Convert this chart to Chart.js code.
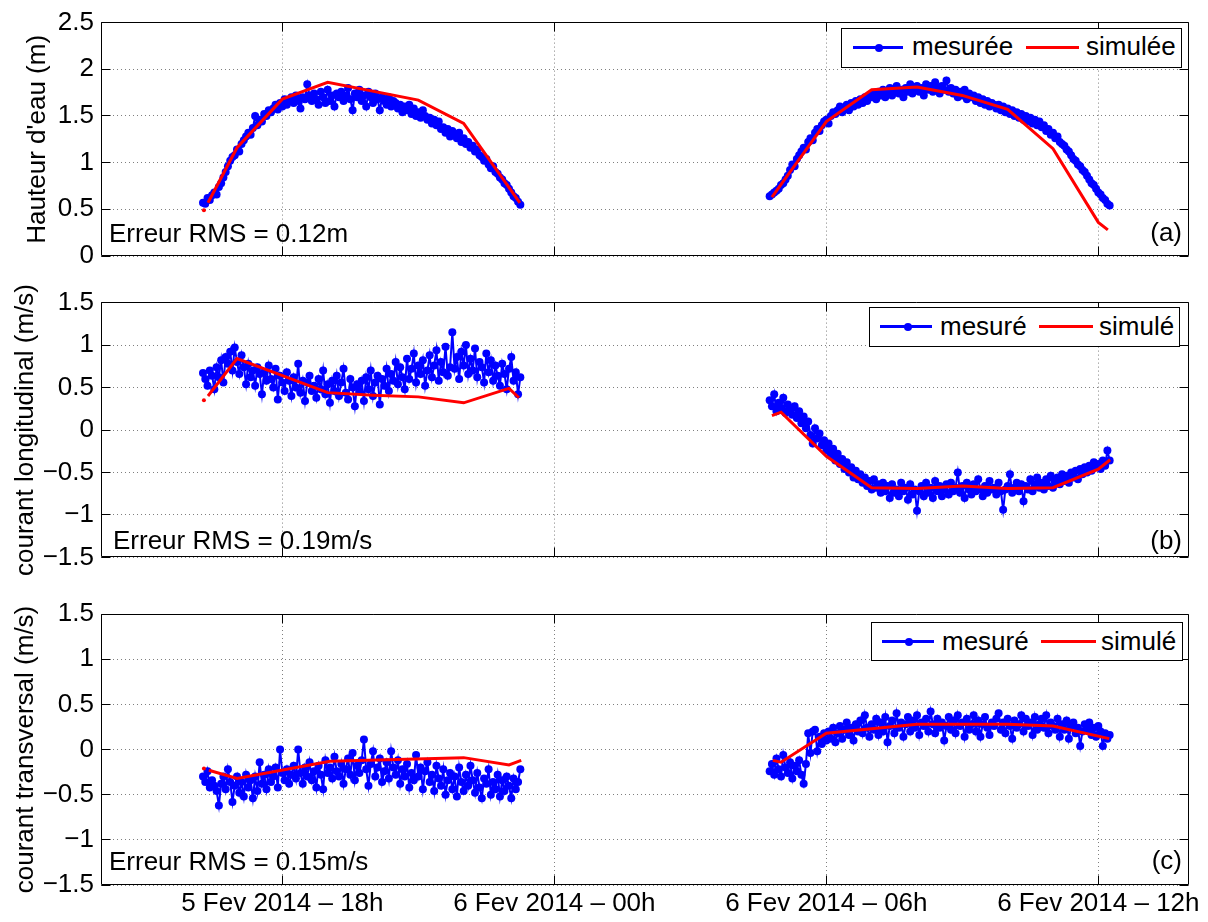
<!DOCTYPE html>
<html>
<head>
<meta charset="utf-8">
<script src="https://cdn.jsdelivr.net/npm/chart.js@4/dist/chart.umd.min.js"></script>
<style>
body { margin:0; background:#fff; width:1208px; height:922px; position:relative; overflow:hidden;
       font-family:"Liberation Sans", Arial, Helvetica, sans-serif; }
.panel { position:absolute; left:0; }
.txt { position:absolute; font-size:26px; line-height:26px; white-space:nowrap; color:#000; }
.box { position:absolute; border:1px solid #000; background:#fff; box-sizing:border-box; }
.ln { position:absolute; height:3px; }
.dot { position:absolute; width:8px; height:8px; border-radius:50%; background:#00f; }
</style>
</head>
<body>
<canvas id="chartA" class="panel" width="1208" height="280" style="top:0"></canvas>
<canvas id="chartB" class="panel" width="1208" height="300" style="top:280px"></canvas>
<canvas id="chartC" class="panel" width="1208" height="332" style="top:590px"></canvas>

<!-- legends -->
<div class="box" style="left:841px;top:28px;width:341px;height:40px"></div>
<div class="ln" style="left:853px;top:46px;width:50px;background:#00f"></div>
<div class="dot" style="left:875px;top:43.5px"></div>
<div class="txt" style="left:912px;top:33px">mesurée</div>
<div class="ln" style="left:1026px;top:46px;width:53px;background:#f00"></div>
<div class="txt" style="left:1086px;top:33px">simulée</div>

<div class="box" style="left:869px;top:307px;width:311px;height:40px"></div>
<div class="ln" style="left:880px;top:325px;width:52px;background:#00f"></div>
<div class="dot" style="left:903.5px;top:322.5px"></div>
<div class="txt" style="left:940px;top:313px">mesuré</div>
<div class="ln" style="left:1039px;top:325px;width:54px;background:#f00"></div>
<div class="txt" style="left:1099px;top:313px">simulé</div>

<div class="box" style="left:871px;top:622px;width:312px;height:39px"></div>
<div class="ln" style="left:882px;top:640px;width:52px;background:#00f"></div>
<div class="dot" style="left:905px;top:637.5px"></div>
<div class="txt" style="left:942px;top:628px">mesuré</div>
<div class="ln" style="left:1041px;top:640px;width:55px;background:#f00"></div>
<div class="txt" style="left:1101px;top:628px">simulé</div>

<!-- annotations -->
<div class="txt" style="left:109px;top:220px">Erreur RMS = 0.12m</div>
<div class="txt" style="right:26px;top:219px">(a)</div>
<div class="txt" style="left:113px;top:527px">Erreur RMS = 0.19m/s</div>
<div class="txt" style="right:26px;top:527px">(b)</div>
<div class="txt" style="left:109px;top:848px">Erreur RMS = 0.15m/s</div>
<div class="txt" style="right:26px;top:847px">(c)</div>

<script>
// x axis: hours counted from 5 Feb 2014 00h
const xMin = 14, xMax = 38;
const xTickHours = [18, 24, 30, 36];
const xTickLabels = ['5 Fev 2014 – 18h', '6 Fev 2014 – 00h', '6 Fev 2014 – 06h', '6 Fev 2014 – 12h'];

const yTicksA = [0, 0.5, 1, 1.5, 2, 2.5];
const yLabelsA = ['0', '0.5', '1', '1.5', '2', '2.5'];
const yTicksBC = [-1.5, -1, -0.5, 0, 0.5, 1, 1.5];
const yLabelsBC = ['\u22121.5', '\u22121', '\u22120.5', '0', '0.5', '1', '1.5'];

// measurements: one sample every 3 minutes
const sampleStep = 0.05;
const seg1Start = 16.25;
const seg2Start = 28.75;

// (a) water height
const hauteurMes1 = [0.57,0.56,0.62,0.60,0.65,0.68,0.66,0.74,0.78,0.84,
  0.90,0.96,1.02,1.06,1.08,1.14,1.12,1.20,1.24,1.28,
  1.32,1.30,1.37,1.50,1.40,1.46,1.44,1.52,1.50,1.56,
  1.54,1.58,1.62,1.57,1.64,1.60,1.68,1.62,1.66,1.70,
  1.64,1.72,1.66,1.58,1.70,1.68,1.84,1.72,1.66,1.74,
  1.68,1.62,1.76,1.70,1.64,1.78,1.66,1.72,1.60,1.74,
  1.70,1.76,1.66,1.72,1.80,1.68,1.56,1.74,1.70,1.78,
  1.66,1.72,1.60,1.76,1.70,1.64,1.74,1.68,1.56,1.70,
  1.66,1.62,1.70,1.60,1.66,1.64,1.58,1.62,1.54,1.60,
  1.56,1.62,1.52,1.58,1.50,1.54,1.48,1.56,1.50,1.46,
  1.48,1.42,1.46,1.40,1.44,1.36,1.38,1.32,1.36,1.28,
  1.34,1.30,1.26,1.32,1.22,1.26,1.20,1.22,1.16,1.18,
  1.12,1.14,1.08,1.06,1.02,1.04,0.98,0.94,0.96,0.90,
  0.88,0.84,0.82,0.78,0.76,0.72,0.68,0.64,0.62,0.58,
  0.55];
const hauteurMes2 = [0.64,0.66,0.68,0.70,0.72,0.76,0.78,0.82,0.86,0.92,
  0.98,0.96,1.04,1.08,1.12,1.16,1.14,1.22,1.26,1.24,
  1.32,1.36,1.34,1.40,1.44,1.46,1.42,1.50,1.54,1.52,
  1.56,1.60,1.54,1.58,1.62,1.56,1.64,1.60,1.66,1.62,
  1.68,1.64,1.70,1.66,1.72,1.70,1.74,1.68,1.76,1.72,
  1.78,1.70,1.74,1.80,1.72,1.76,1.82,1.74,1.78,1.70,
  1.80,1.76,1.84,1.74,1.78,1.82,1.76,1.80,1.72,1.84,
  1.78,1.82,1.76,1.86,1.80,1.74,1.82,1.78,1.88,1.76,
  1.80,1.74,1.78,1.70,1.76,1.72,1.78,1.68,1.74,1.70,
  1.72,1.66,1.70,1.64,1.68,1.62,1.66,1.60,1.64,1.62,
  1.58,1.62,1.56,1.60,1.54,1.58,1.52,1.56,1.50,1.54,
  1.48,1.52,1.46,1.50,1.44,1.48,1.42,1.46,1.40,1.44,
  1.38,1.40,1.34,1.36,1.30,1.32,1.26,1.28,1.22,1.20,
  1.18,1.14,1.12,1.08,1.04,1.02,0.98,0.96,0.92,0.90,
  0.86,0.82,0.78,0.76,0.72,0.68,0.66,0.62,0.60,0.56,
  0.54];
const hauteurSimT1 = [16.27, 16.36, 17, 18, 19, 21, 22, 23.24];
const hauteurSim1 = [0.49, 0.57, 1.16, 1.68, 1.86, 1.67, 1.42, 0.57];
const hauteurSimT2 = [28.8, 30, 31, 32, 33, 34, 35, 36, 36.21];
const hauteurSim2 = [0.63, 1.44, 1.78, 1.81, 1.72, 1.57, 1.15, 0.36, 0.28];

// (b) longshore current
const longMes1 = [0.67,0.60,0.52,0.70,0.64,0.48,0.74,0.62,0.82,0.56,
  0.86,0.78,0.92,0.70,0.97,0.80,0.66,0.88,0.74,0.54,
  0.78,0.62,0.70,0.52,0.74,0.66,0.42,0.68,0.58,0.76,
  0.60,0.50,0.72,0.36,0.64,0.56,0.46,0.68,0.58,0.40,
  0.62,0.50,0.78,0.44,0.58,0.34,0.56,0.64,0.46,0.52,
  0.38,0.60,0.48,0.70,0.42,0.54,0.32,0.58,0.46,0.64,
  0.40,0.56,0.72,0.44,0.36,0.60,0.50,0.28,0.54,0.46,
  0.58,0.34,0.62,0.48,0.70,0.40,0.56,0.64,0.30,0.60,
  0.52,0.72,0.46,0.66,0.58,0.80,0.54,0.74,0.62,0.48,
  0.84,0.60,0.72,0.90,0.56,0.76,0.66,0.82,0.52,0.70,
  0.88,0.62,0.76,0.94,0.58,0.80,0.68,0.98,0.64,0.74,
  1.15,0.72,0.86,0.60,0.92,0.76,1.00,0.66,0.84,0.70,
  0.96,0.62,0.80,0.74,0.56,0.90,0.68,0.82,0.58,0.76,
  0.64,0.52,0.78,0.66,0.48,0.72,0.86,0.58,0.68,0.42,
  0.62];
const longMes2 = [0.35,0.28,0.42,0.22,0.32,0.26,0.38,0.20,0.30,0.24,
  0.18,0.28,0.14,0.22,0.08,0.16,0.02,0.10,-0.06,-0.16,
  0.02,-0.10,-0.04,-0.18,-0.12,-0.24,-0.16,-0.30,-0.22,-0.36,
  -0.28,-0.40,-0.34,-0.46,-0.38,-0.50,-0.44,-0.56,-0.48,-0.58,
  -0.52,-0.62,-0.56,-0.66,-0.60,-0.70,-0.58,-0.68,-0.64,-0.74,
  -0.62,-0.72,-0.66,-0.80,-0.64,-0.74,-0.70,-0.78,-0.62,-0.72,
  -0.68,-0.82,-0.64,-0.76,-0.70,-0.95,-0.72,-0.66,-0.78,-0.62,
  -0.74,-0.68,-0.80,-0.60,-0.72,-0.66,-0.78,-0.70,-0.64,-0.76,
  -0.62,-0.72,-0.68,-0.50,-0.74,-0.66,-0.80,-0.62,-0.70,-0.76,
  -0.64,-0.72,-0.58,-0.70,-0.78,-0.66,-0.74,-0.60,-0.70,-0.68,
  -0.76,-0.62,-0.72,-0.94,-0.70,-0.66,-0.52,-0.74,-0.68,-0.62,
  -0.72,-0.64,-0.84,-0.66,-0.70,-0.58,-0.72,-0.64,-0.56,-0.68,
  -0.62,-0.70,-0.58,-0.66,-0.54,-0.68,-0.60,-0.56,-0.64,-0.52,
  -0.60,-0.54,-0.62,-0.50,-0.56,-0.48,-0.58,-0.46,-0.52,-0.44,
  -0.50,-0.42,-0.48,-0.38,-0.44,-0.40,-0.46,-0.36,-0.42,-0.24,
  -0.36];
const longSimT1 = [16.27, 16.36, 17, 19, 20, 21, 22, 23, 23.22];
const longSim1 = [0.35, 0.40, 0.84, 0.44, 0.41, 0.39, 0.32, 0.49, 0.38];
const longSimT2 = [28.8, 29, 30, 31, 32, 33, 34, 35, 36, 36.26];
const longSim2 = [0.17, 0.21, -0.31, -0.68, -0.69, -0.66, -0.69, -0.68, -0.46, -0.35];

// (c) cross-shore current
const transMes1 = [-0.30,-0.36,-0.24,-0.42,-0.34,-0.40,-0.46,-0.62,-0.38,-0.30,
  -0.44,-0.22,-0.36,-0.58,-0.40,-0.30,-0.48,-0.36,-0.52,-0.28,
  -0.42,-0.34,-0.54,-0.30,-0.46,-0.14,-0.38,-0.28,-0.44,-0.22,
  -0.36,-0.30,-0.20,-0.42,0.00,-0.26,-0.34,-0.22,-0.38,-0.28,
  -0.18,-0.32,0.00,-0.26,-0.38,-0.20,-0.30,-0.14,-0.34,-0.24,
  -0.42,-0.18,-0.28,-0.44,-0.12,-0.26,-0.20,-0.32,-0.08,-0.24,
  -0.30,-0.16,-0.38,-0.22,-0.10,-0.28,-0.04,-0.34,-0.18,-0.26,
  -0.12,0.11,-0.22,-0.40,-0.16,-0.02,-0.30,-0.20,-0.10,-0.36,
  -0.24,-0.14,-0.32,-0.02,-0.20,-0.28,-0.12,-0.38,-0.22,-0.30,
  -0.16,-0.42,-0.26,-0.34,-0.06,-0.30,-0.20,-0.44,-0.24,-0.14,
  -0.36,-0.28,-0.46,-0.18,-0.32,-0.40,-0.22,-0.50,-0.34,-0.26,
  -0.44,-0.30,-0.52,-0.20,-0.36,-0.46,-0.28,-0.40,-0.18,-0.34,
  -0.48,-0.26,-0.42,-0.54,-0.32,-0.38,-0.22,-0.50,-0.36,-0.44,
  -0.28,-0.52,-0.34,-0.46,-0.30,-0.40,-0.54,-0.32,-0.44,-0.36,
  -0.22];
const transMes2 = [-0.24,-0.16,-0.28,-0.10,-0.22,-0.30,-0.06,-0.20,-0.26,-0.14,
  -0.32,-0.18,-0.24,-0.12,-0.28,-0.38,-0.16,0.18,-0.04,0.20,
  0.22,-0.02,0.14,0.06,0.18,0.10,0.20,0.12,0.24,0.08,
  0.18,0.26,0.12,0.22,0.30,0.16,0.24,0.10,0.28,0.20,
  0.32,0.18,0.38,0.24,0.14,0.28,0.22,0.34,0.16,0.30,
  0.20,0.36,0.08,0.26,0.32,0.18,0.40,0.24,0.30,0.14,
  0.28,0.36,0.20,0.32,0.24,0.38,0.16,0.30,0.26,0.34,
  0.20,0.42,0.28,0.18,0.34,0.24,0.30,0.10,0.26,0.36,
  0.22,0.32,0.18,0.38,0.26,0.30,0.14,0.34,0.22,0.28,
  0.38,0.20,0.32,0.14,0.28,0.36,0.24,0.16,0.30,0.26,
  0.34,0.40,0.22,0.30,0.18,0.34,0.26,0.12,0.32,0.24,
  0.28,0.38,0.20,0.34,0.26,0.30,0.16,0.36,0.22,0.28,
  0.34,0.24,0.38,0.18,0.30,0.26,0.22,0.34,0.14,0.28,
  0.22,0.32,0.12,0.26,0.30,0.18,0.24,0.04,0.20,0.28,
  0.22,0.30,0.16,0.24,0.14,0.26,0.20,0.04,0.18,0.12,
  0.16];
const transSimT1 = [16.27, 16.38, 17, 19.05, 22, 23, 23.27];
const transSim1 = [-0.21, -0.23, -0.32, -0.13, -0.09, -0.17, -0.12];
const transSimT2 = [28.82, 29, 30, 32, 34, 35, 36.24];
const transSim2 = [-0.12, -0.14, 0.18, 0.28, 0.28, 0.26, 0.12];

Chart.defaults.font.family = '"Liberation Sans", Arial, Helvetica, sans-serif';
Chart.defaults.font.size = 26;
Chart.defaults.color = '#000';

function mesPoints(start, vals) {
  return vals.map((v, i) => ({x: start + i * sampleStep, y: v}));
}
function simPoints(times, vals) {
  return times.map((t, i) => ({x: t, y: vals[i]}));
}

function simDataset(points, loneFirst) {
  return {
    data: points,
    borderColor: '#ff0000',
    borderWidth: 3,
    pointRadius: ctx => (loneFirst && ctx.dataIndex === 0) ? 2 : 0,
    pointBackgroundColor: '#ff0000',
    pointBorderWidth: 0,
    segment: { borderColor: ctx => (loneFirst && ctx.p0DataIndex === 0) ? 'rgba(0,0,0,0)' : undefined },
    tension: 0
  };
}
function mesDataset(points) {
  return {
    data: points,
    borderColor: '#0000ff',
    borderWidth: 2,
    pointRadius: 4,
    pointBackgroundColor: '#0000ff',
    pointBorderWidth: 0,
    tension: 0
  };
}

const gridColor = 'rgba(0,0,0,0.5)';

// box around the axes + inward tick marks, like the matlab figure
const framePlugin = {
  id: 'frame',
  afterDatasetsDraw(chart) {
    const {ctx, chartArea: a, scales} = chart;
    const al = p => Math.round(p - 0.5) + 0.5;
    const L = al(a.left), R = al(a.right - 1), T = al(a.top), B = al(a.bottom - 1);
    const tl = 9;
    ctx.save();
    ctx.strokeStyle = '#000';
    ctx.lineWidth = 1;
    ctx.beginPath();
    ctx.rect(L, T, R - L, B - T);
    scales.x.ticks.forEach(t => {
      const px = al(scales.x.getPixelForValue(t.value));
      ctx.moveTo(px, B); ctx.lineTo(px, B - tl);
      ctx.moveTo(px, T); ctx.lineTo(px, T + tl);
    });
    scales.y.ticks.forEach(t => {
      const py = al(scales.y.getPixelForValue(t.value));
      ctx.moveTo(L, py); ctx.lineTo(L + tl, py);
      ctx.moveTo(R, py); ctx.lineTo(R - tl, py);
    });
    ctx.stroke();
    ctx.restore();
  }
};

function makePanel(id, cfg) {
  return new Chart(document.getElementById(id), {
    type: 'line',
    data: {
      datasets: [
        simDataset(cfg.sim1, true),
        simDataset(cfg.sim2, false),
        mesDataset(cfg.mes1),
        mesDataset(cfg.mes2)
      ]
    },
    options: {
      responsive: false,
      animation: false,
      events: [],
      layout: { padding: { top: cfg.top, right: 19, left: 0, bottom: 0 } },
      plugins: { legend: { display: false }, tooltip: { enabled: false } },
      scales: {
        x: {
          type: 'linear',
          min: xMin,
          max: xMax,
          afterBuildTicks: s => { s.ticks = xTickHours.map(v => ({value: v})); },
          afterFit: s => { s.height = cfg.xHeight; },
          grid: { color: gridColor, lineWidth: 1, drawTicks: false },
          border: { display: false, dash: [1, 3] },
          ticks: {
            display: cfg.showX,
            autoSkip: false,
            maxRotation: 0,
            padding: 3,
            callback: v => xTickLabels[xTickHours.indexOf(v)]
          }
        },
        y: {
          min: cfg.yTicks[0],
          max: cfg.yTicks[cfg.yTicks.length - 1],
          afterBuildTicks: s => { s.ticks = cfg.yTicks.map(v => ({value: v})); },
          afterFit: s => { s.width = 101; },
          grid: { color: gridColor, lineWidth: 1, drawTicks: false },
          border: { display: false, dash: [1, 3] },
          ticks: {
            padding: 7,
            callback: v => cfg.yLabels[cfg.yTicks.indexOf(v)]
          },
          title: { display: true, text: cfg.title, padding: { top: cfg.titlePad, bottom: 0 } }
        }
      }
    },
    plugins: [framePlugin]
  });
}

makePanel('chartA', {
  top: 22, xHeight: 24, showX: false, titlePad: 22,
  yTicks: yTicksA, yLabels: yLabelsA, title: "Hauteur d'eau (m)",
  mes1: mesPoints(seg1Start, hauteurMes1), mes2: mesPoints(seg2Start, hauteurMes2),
  sim1: simPoints(hauteurSimT1, hauteurSim1), sim2: simPoints(hauteurSimT2, hauteurSim2)
});
makePanel('chartB', {
  top: 19, xHeight: 14, showX: false, titlePad: 10,
  yTicks: yTicksBC, yLabels: yLabelsBC, title: 'courant longitudinal (m/s)',
  mes1: mesPoints(seg1Start, longMes1), mes2: mesPoints(seg2Start, longMes2),
  sim1: simPoints(longSimT1, longSim1), sim2: simPoints(longSimT2, longSim2)
});
makePanel('chartC', {
  top: 24, xHeight: 37, showX: true, titlePad: 10,
  yTicks: yTicksBC, yLabels: yLabelsBC, title: 'courant transversal (m/s)',
  mes1: mesPoints(seg1Start, transMes1), mes2: mesPoints(seg2Start, transMes2),
  sim1: simPoints(transSimT1, transSim1), sim2: simPoints(transSimT2, transSim2)
});
</script>
</body>
</html>
